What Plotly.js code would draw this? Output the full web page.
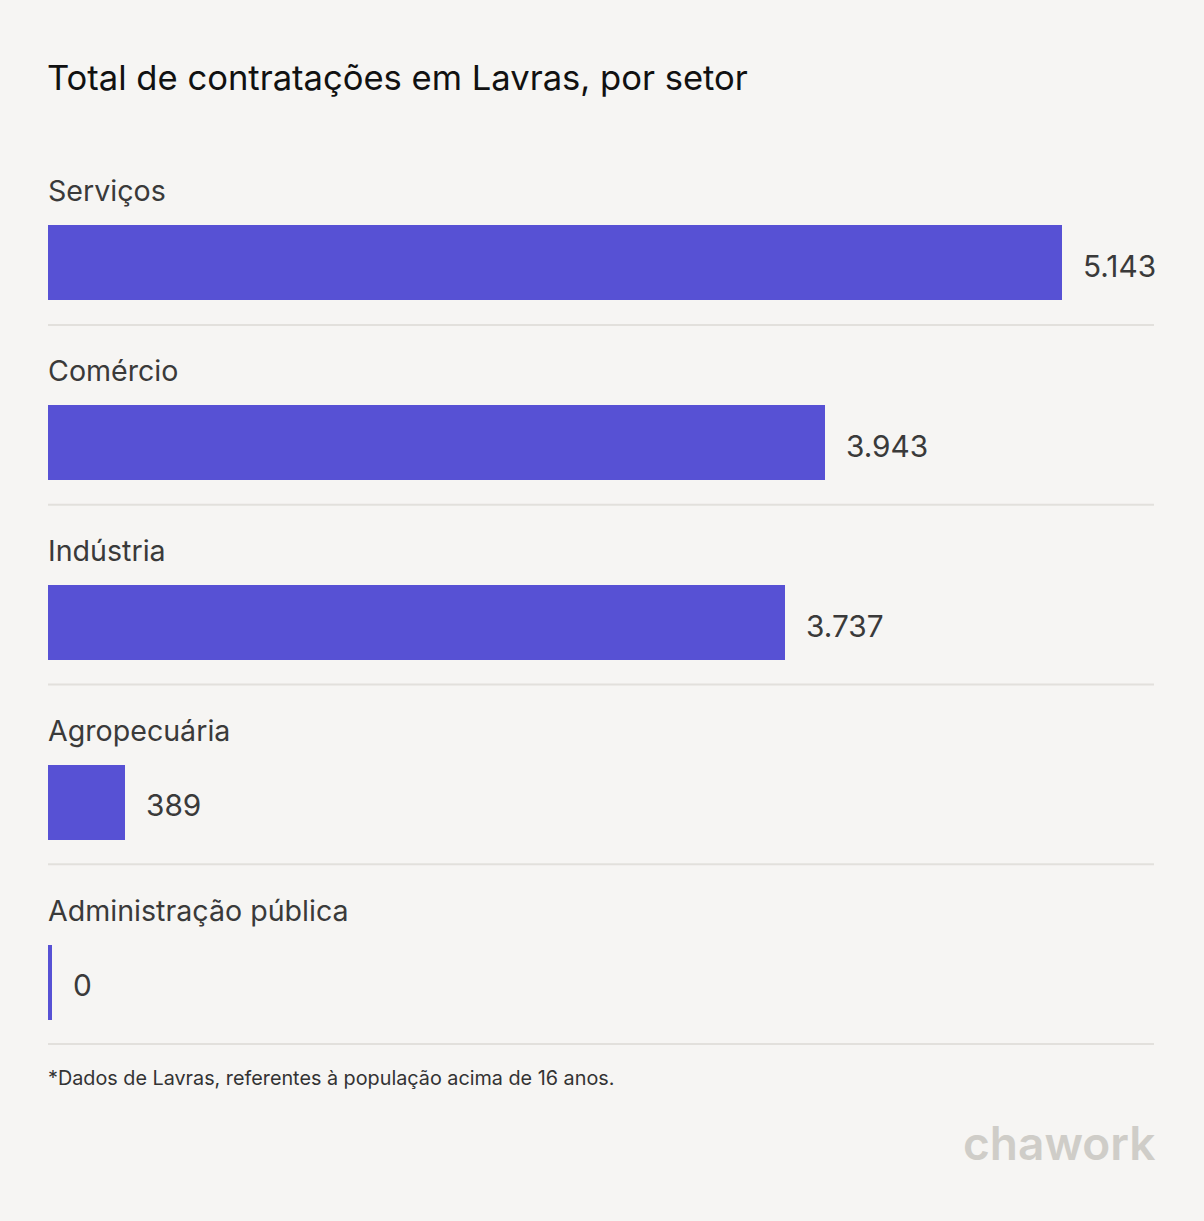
<!DOCTYPE html>
<html>
<head>
<meta charset="utf-8">
<script src="https://cdn.plot.ly/plotly-3.0.1.min.js"></script>
<style>
html,body{margin:0;padding:0;background:#f6f5f3;}
#chart{width:1204px;height:1221px;}
</style>
</head>
<body>
<div id="chart"></div>
<script>
const categories = ["Serviços", "Comércio", "Indústria", "Agropecuária", "Administração pública"];
const values = [5143, 3943, 3737, 389, 0];
const titleText = "Total de contratações em Lavras, por setor";
const footnote = "*Dados de Lavras, referentes à população acima de 16 anos.";
const brand = "chawork";

const W = 1204, H = 1221;
const pitch = 179.75;
const ml = 48, mr = 50;
const mt = Math.round(262.5 - pitch/2);
const plotH = pitch * categories.length;
const mb = H - mt - plotH;
const xMax = 5610;
const plotW = W - ml - mr;
const pxPerUnit = plotW / xMax;
const minBarUnits = 4 / pxPerUnit;

function fmt(v){ return String(v).replace(/\B(?=(\d{3})+(?!\d))/g, "."); }

const idx = categories.map((c,i)=>i);
const barColor = "#5751d4";
const font = "Inter, 'Open Sans', sans-serif";

const trace = {
  type: "bar",
  orientation: "h",
  y: idx,
  x: values.map(v => Math.max(v, minBarUnits)),
  width: 75/pitch,
  marker: {color: barColor, line: {width: 0}},
  hoverinfo: "skip",
  showlegend: false
};

const annotations = [];
categories.forEach((c,i)=>{
  annotations.push({
    x: 0, y: i, xref: "x", yref: "y", xanchor: "left", yanchor: "middle",
    yshift: 72, xshift: -2, text: c, showarrow: false,
    font: {family: font, size: 28.6, color: "#3a3a3a"}
  });
  annotations.push({
    x: Math.max(values[i], minBarUnits), y: i, xref: "x", yref: "y", xanchor: "left", yanchor: "middle",
    xshift: 19, yshift: -3, text: fmt(values[i]), showarrow: false,
    font: {family: font, size: 29.8, color: "#3a3a3a"}
  });
});

function paperX(px){ return (px - ml)/plotW; }
function paperY(py){ return 1 - (py - mt)/plotH; }

annotations.push({
  x: paperX(46), y: paperY(1078), xref: "paper", yref: "paper", xanchor: "left", yanchor: "middle",
  text: footnote, showarrow: false, font: {family: font, size: 19.8, color: "#333333"}
});
annotations.push({
  x: paperX(1157), y: paperY(1143), xref: "paper", yref: "paper", xanchor: "right", yanchor: "middle",
  text: brand, showarrow: false, font: {family: font, size: 46, weight: 600, color: "#cfcdc8"}
});

const shapes = idx.map(i => ({
  type: "line", xref: "paper", yref: "y",
  x0: 0, x1: 1, y0: i + 62/pitch, y1: i + 62/pitch,
  line: {color: "#e2e0dc", width: 2}
}));

const layout = {
  width: W, height: H,
  margin: {l: ml, r: mr, t: mt, b: mb, pad: 0},
  paper_bgcolor: "#f6f5f3",
  plot_bgcolor: "#f6f5f3",
  title: {
    text: titleText, x: 47/W, xref: "container", xanchor: "left",
    y: 1 - 78/H, yref: "container", yanchor: "middle",
    font: {family: font, size: 34.6, weight: 400, color: "#111111"}
  },
  xaxis: {range: [0, xMax], visible: false, fixedrange: true},
  yaxis: {range: [categories.length - 0.5, -0.5], visible: false, fixedrange: true},
  bargap: 0,
  annotations: annotations,
  shapes: shapes
};

Plotly.newPlot("chart", [trace], layout, {displayModeBar: false, staticPlot: true});
</script>
</body>
</html>
